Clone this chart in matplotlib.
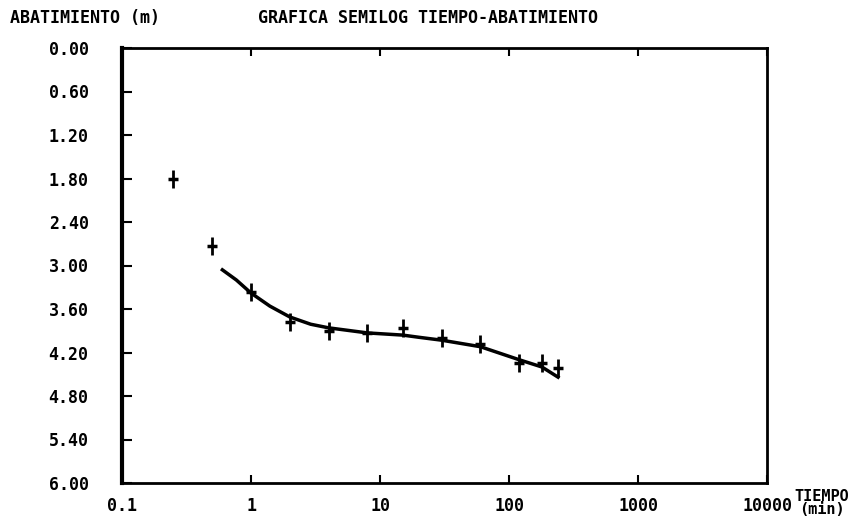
import matplotlib.pyplot as plt
from matplotlib.ticker import FixedLocator, NullLocator

# measured drawdown points (time in min, drawdown in m)
tiempo = [0.25, 0.5, 1, 2, 4, 8, 15, 30, 60, 120, 180, 240]
abatimiento = [1.81, 2.73, 3.37, 3.78, 3.90, 3.93, 3.86, 4.00, 4.08, 4.34, 4.34, 4.41]

# fitted curve as drawn on the plot
curva_t = [0.6, 0.77, 1, 1.4, 2, 2.9, 4, 8, 15, 20, 30, 60, 120, 180, 240]
curva_a = [3.06, 3.20, 3.38, 3.56, 3.71, 3.81, 3.86, 3.93, 3.96, 3.99, 4.03, 4.12, 4.30, 4.40, 4.54]

x_ticks = [0.1, 1, 10, 100, 1000, 10000]
x_labels = ['0.1', '1', '10', '100', '1000', '10000']
y_ticks = [0.0, 0.6, 1.2, 1.8, 2.4, 3.0, 3.6, 4.2, 4.8, 5.4, 6.0]
y_labels = ['0.00', '0.60', '1.20', '1.80', '2.40', '3.00', '3.60', '4.20', '4.80', '5.40', '6.00']

plt.rcParams['font.family'] = 'DejaVu Sans Mono'
plt.rcParams['font.weight'] = 'bold'

fig = plt.figure(figsize=(8.51, 5.2), dpi=100)
ax = fig.add_axes([122 / 851, 1 - 483 / 520, (767 - 122) / 851, (483 - 48) / 520])

ax.plot(curva_t, curva_a, color='black', lw=2.5)
# printer-style cross: tall vertical stroke, short horizontal one
ax.plot(tiempo, abatimiento, linestyle='none', marker='|', color='black',
        markersize=13, markeredgewidth=2)
ax.plot(tiempo, abatimiento, linestyle='none', marker='_', color='black',
        markersize=7, markeredgewidth=2.5)

ax.set_xscale('log')
ax.set_xlim(0.1, 10000)
ax.set_ylim(6.0, 0.0)
ax.xaxis.set_major_locator(FixedLocator(x_ticks))
ax.xaxis.set_minor_locator(NullLocator())
ax.set_xticklabels(x_labels)
ax.set_yticks(y_ticks)
ax.set_yticklabels(y_labels)

ax.tick_params(axis='x', direction='in', top=True, length=6, width=1.5,
               labelsize=12, pad=10)
ax.tick_params(axis='y', direction='in', right=False, length=7, width=1.5,
               labelsize=12, pad=24)
for side in ['top', 'bottom', 'right']:
    ax.spines[side].set_linewidth(2)
ax.spines['left'].set_linewidth(3)

fig.text(10 / 851, 1 - 18 / 520, 'ABATIMIENTO (m)', fontsize=12, va='center', ha='left')
fig.text(428 / 851, 1 - 18 / 520, 'GRAFICA SEMILOG TIEMPO-ABATIMIENTO', fontsize=12,
         va='center', ha='center')
fig.text(822 / 851, 1 - 503 / 520, 'TIEMPO\n(min)', fontsize=11, va='center', ha='center',
         linespacing=0.9)

plt.savefig('out.png', dpi=100)
